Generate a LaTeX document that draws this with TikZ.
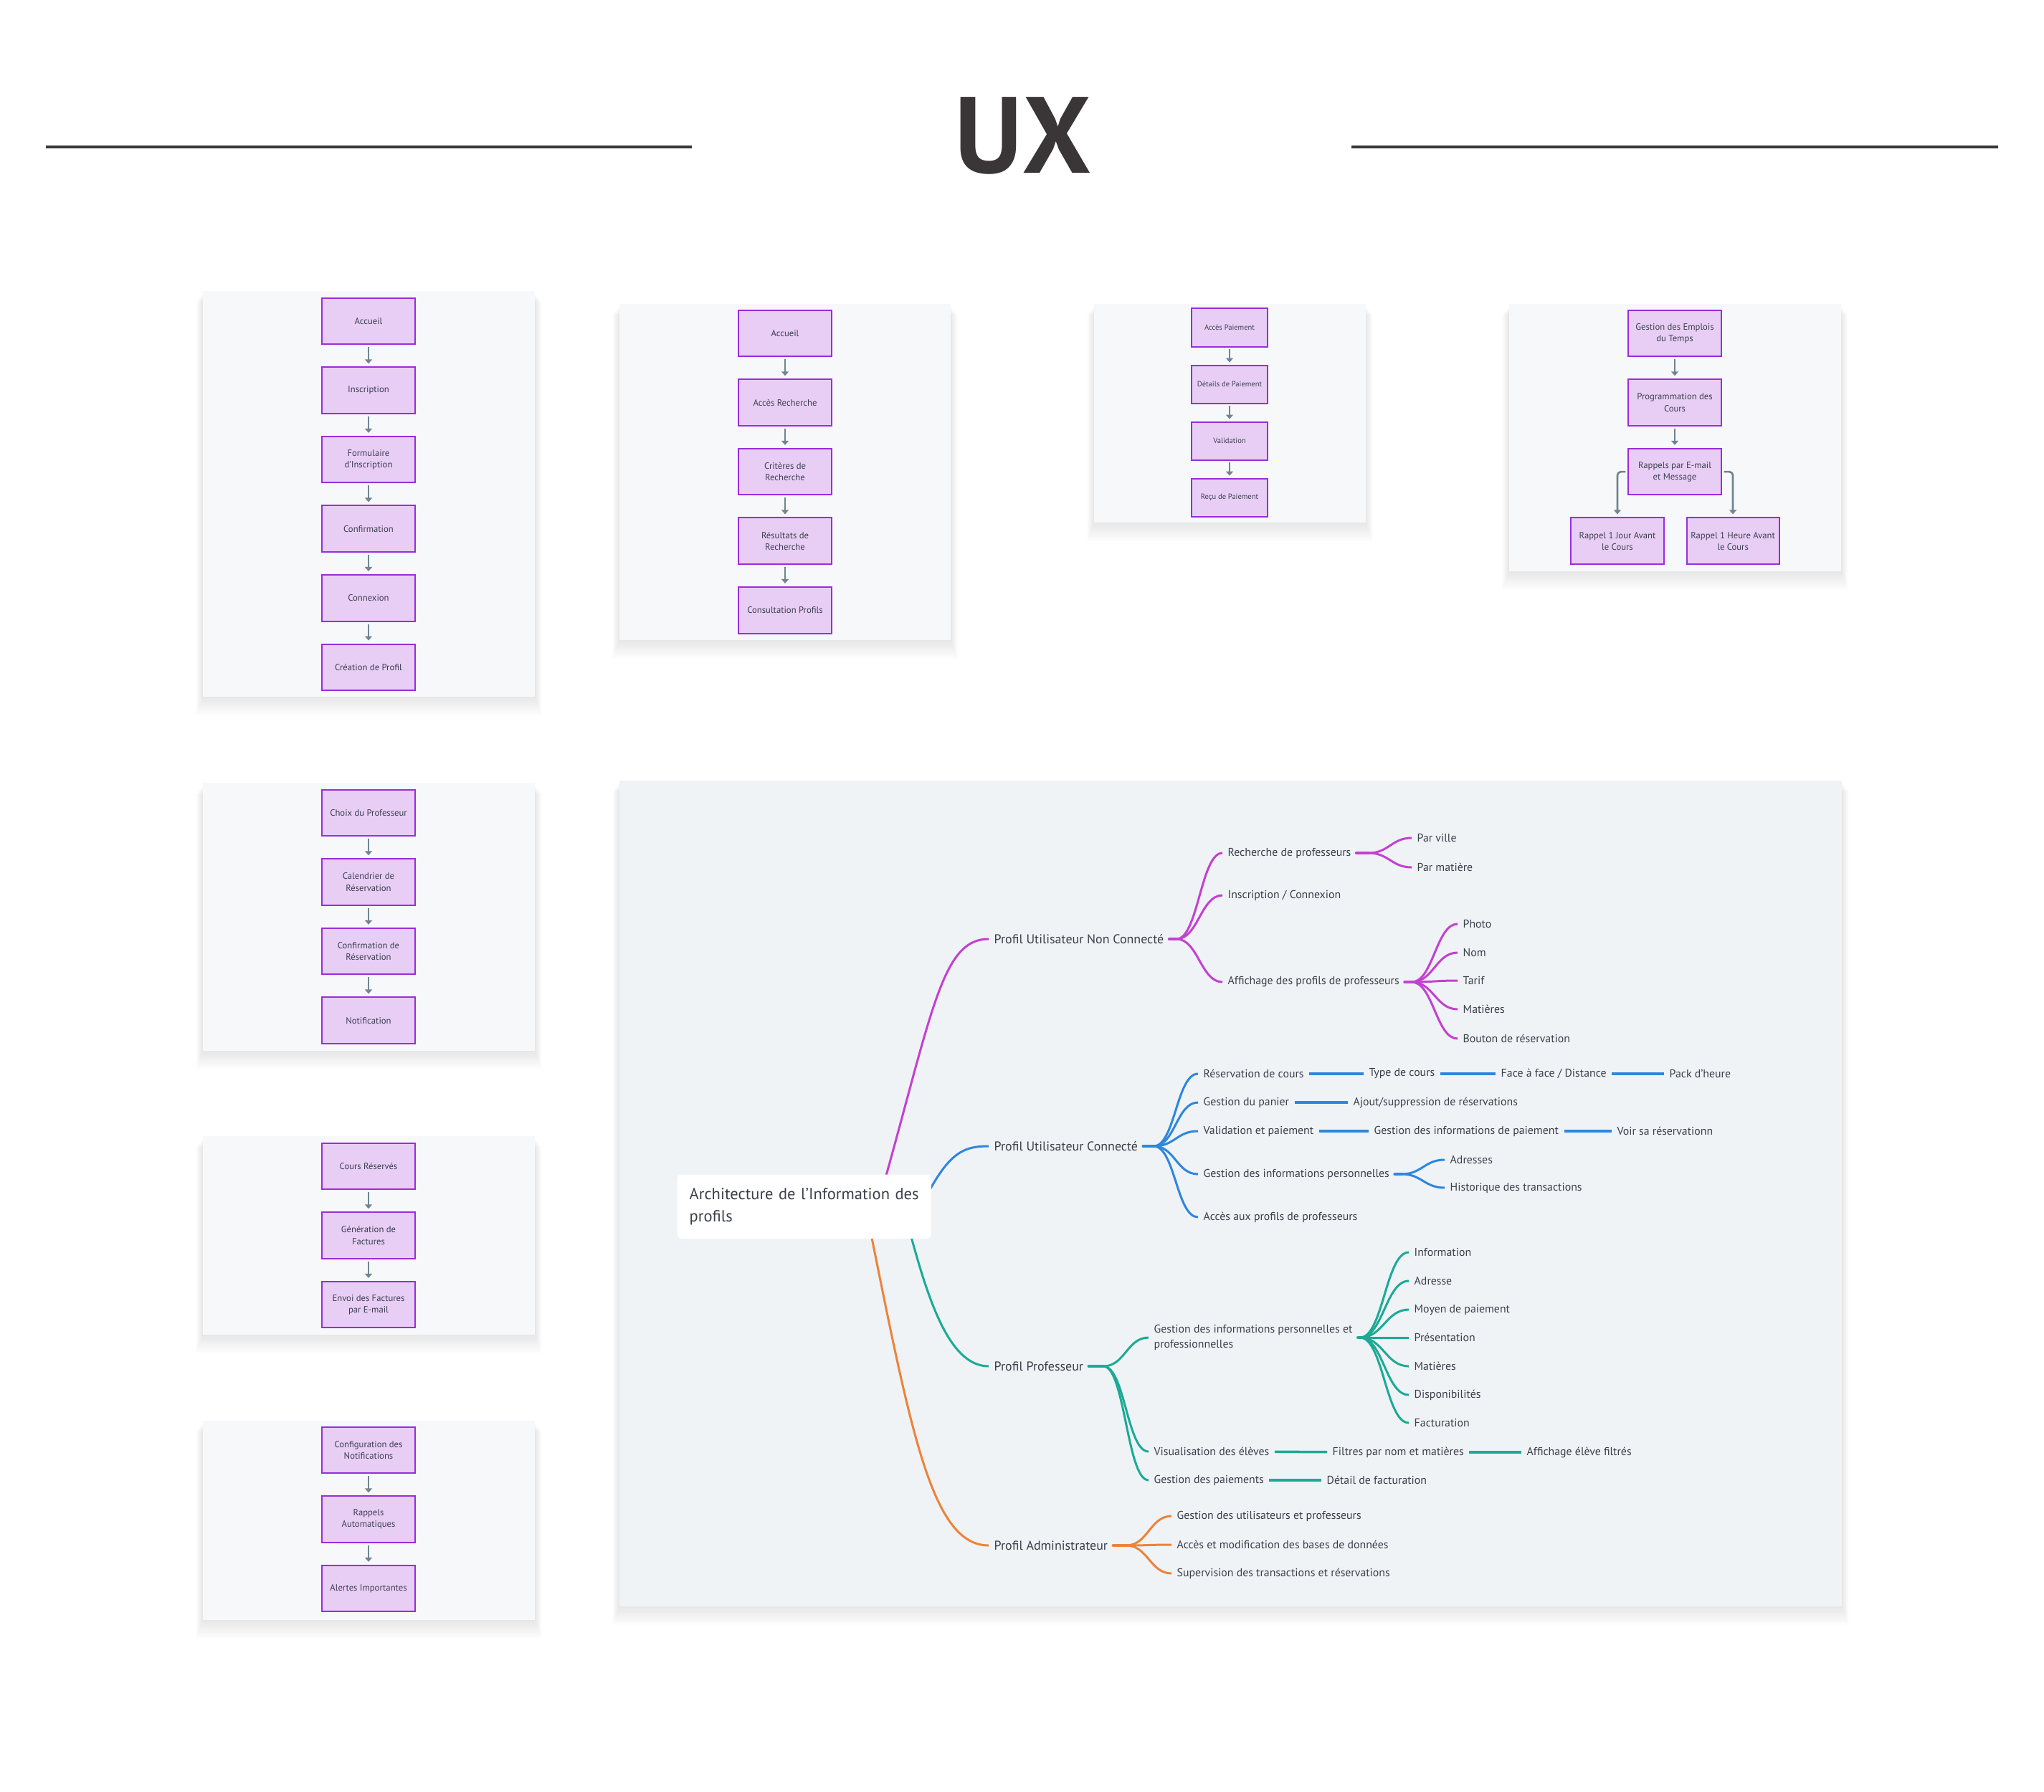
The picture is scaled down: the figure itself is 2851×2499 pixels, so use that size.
\documentclass[tikz,border=0pt]{standalone}
\usepackage{fontspec}
\setmainfont{PT Sans}
\usepackage{xcolor}
\usetikzlibrary{shapes,arrows.meta,positioning,calc}
\pgfdeclarelayer{back}
\pgfdeclarelayer{links}
\pgfsetlayers{back,links,main}

\definecolor{paneltint}{RGB}{247,248,249}
\definecolor{mapbg}{RGB}{239,243,246}
\definecolor{boxfill}{RGB}{232,206,245}
\definecolor{boxline}{RGB}{153,45,222}
\definecolor{boxtext}{RGB}{60,63,80}
\definecolor{arrowgrey}{RGB}{112,132,146}
\definecolor{titlegrey}{RGB}{58,53,54}
\definecolor{mapink}{RGB}{58,63,74}
\definecolor{mpurple}{RGB}{196,64,209}
\definecolor{mblue}{RGB}{46,134,222}
\definecolor{mteal}{RGB}{28,170,150}
\definecolor{morange}{RGB}{236,131,58}

\begin{document}
\begin{tikzpicture}[
    x=0.01cm, y=-0.01cm,
    node distance=0.30cm,
    screenbox/.style={rectangle, draw=boxline, fill=boxfill, line width=0.02cm, minimum width=1.29cm, minimum height=0.645cm, inner sep=0pt, align=center, text=boxtext, font=\fontsize{3.6}{4.6}\selectfont},
    smallbox/.style={screenbox, minimum width=1.06cm, minimum height=0.53cm, font=\fontsize{3.0}{3.8}\selectfont},
    flowarrow/.style={-{Triangle[length=0.06cm, width=0.1cm]}, draw=arrowgrey, line width=0.027cm, shorten <=0.03cm, shorten >=0.04cm},
    rootnode/.style={fill=white, rounded corners=0.05cm, anchor=north west, minimum width=3.54cm, minimum height=0.89cm, text width=3.2cm, inner xsep=0.17cm, align=left, text=mapink, font=\fontsize{6.4}{8.6}\selectfont},
    topicnode/.style={anchor=west, inner xsep=0.07cm, inner ysep=0pt, text=mapink, font=\fontsize{5.1}{6}\selectfont},
    leafnode/.style={topicnode, font=\fontsize{4.5}{6}\selectfont},
    curvelink/.style={line width=0.03cm},
    stublink/.style={line width=0.045cm, line cap=round},
    chainlink/.style={line width=0.035cm}
]
    \useasboundingbox (0,0) rectangle (2851,2499);

    \begin{pgfonlayer}{back}
        \fill[white] (0,0) rectangle (2851,2499);
        \foreach \xa/\ya/\xb/\yb in {283/406/746/972, 864/424/1326/893, 1526/424/1905/729, 2105/424/2568/797, 283/1092/746/1466, 283/1585/746/1862, 283/1982/746/2260, 864/1089/2569/2241}{
            \foreach \s in {1,...,12}
                \fill[black, opacity=0.008] (\xa-0.8*\s, \ya+3+\s) rectangle (\xb+0.8*\s, \yb+2.2*\s);
            \fill[paneltint] (\xa,\ya) rectangle (\xb,\yb);
        }
        \fill[mapbg] (864,1089) rectangle (2569,2241);
    \end{pgfonlayer}

    \node[anchor=base, text=titlegrey, font=\fontsize{43}{43}\selectfont\bfseries] (title) at (1427,241) {UX};
    \draw[titlegrey, line width=0.035cm] (64,205) -- (965,205);
    \draw[titlegrey, line width=0.035cm] (1885,205) -- (2787,205);

    \node[screenbox] (acc) at (514,448) {Accueil};
    \node[screenbox, below=of acc] (insc) {Inscription};
    \node[screenbox, below=of insc] (form) {Formulaire\\d'Inscription};
    \node[screenbox, below=of form] (conf) {Confirmation};
    \node[screenbox, below=of conf] (cnx) {Connexion};
    \node[screenbox, below=of cnx] (crea) {Création de Profil};

    \draw[flowarrow] (acc) -- (insc);
    \draw[flowarrow] (insc) -- (form);
    \draw[flowarrow] (form) -- (conf);
    \draw[flowarrow] (conf) -- (cnx);
    \draw[flowarrow] (cnx) -- (crea);

    \node[screenbox] (accr) at (1095,465) {Accueil};
    \node[screenbox, below=of accr] (rech) {Accès Recherche};
    \node[screenbox, below=of rech] (crit) {Critères de\\Recherche};
    \node[screenbox, below=of crit] (resu) {Résultats de\\Recherche};
    \node[screenbox, below=of resu] (consult) {Consultation Profils};

    \draw[flowarrow] (accr) -- (rech);
    \draw[flowarrow] (rech) -- (crit);
    \draw[flowarrow] (crit) -- (resu);
    \draw[flowarrow] (resu) -- (consult);

    \node[smallbox] (accpay) at (1715,457) {Accès Paiement};
    \node[smallbox, below=0.24cm of accpay] (detpay) {Détails de Paiement};
    \node[smallbox, below=0.24cm of detpay] (valpay) {Validation};
    \node[smallbox, below=0.24cm of valpay] (recu) {Reçu de Paiement};

    \draw[flowarrow, shorten <=0.02cm, shorten >=0.03cm] (accpay) -- (detpay);
    \draw[flowarrow, shorten <=0.02cm, shorten >=0.03cm] (detpay) -- (valpay);
    \draw[flowarrow, shorten <=0.02cm, shorten >=0.03cm] (valpay) -- (recu);

    \node[screenbox] (edt) at (2336,465) {Gestion des Emplois\\du Temps};
    \node[screenbox, below=of edt] (prog) {Programmation des\\Cours};
    \node[screenbox, below=of prog] (rappel) {Rappels par E-mail\\et Message};
    \node[screenbox, below=of rappel, xshift=-0.8cm] (jour) {Rappel 1 Jour Avant\\le Cours};
    \node[screenbox, below=of rappel, xshift=0.81cm] (heure) {Rappel 1 Heure Avant\\le Cours};

    \draw[flowarrow] (edt) -- (prog);
    \draw[flowarrow] (prog) -- (rappel);
    \draw[flowarrow, rounded corners=0.05cm] (rappel.west) -| (jour.north);
    \draw[flowarrow, rounded corners=0.05cm] (rappel.east) -| (heure.north);

    \node[screenbox] (choix) at (514,1134) {Choix du Professeur};
    \node[screenbox, below=of choix] (cal) {Calendrier de\\Réservation};
    \node[screenbox, below=of cal] (confres) {Confirmation de\\Réservation};
    \node[screenbox, below=of confres] (notif) {Notification};

    \draw[flowarrow] (choix) -- (cal);
    \draw[flowarrow] (cal) -- (confres);
    \draw[flowarrow] (confres) -- (notif);

    \node[screenbox] (cours) at (514,1627) {Cours Réservés};
    \node[screenbox, below=of cours] (gen) {Génération de\\Factures};
    \node[screenbox, below=of gen] (envoi) {Envoi des Factures\\par E-mail};

    \draw[flowarrow] (cours) -- (gen);
    \draw[flowarrow] (gen) -- (envoi);

    \node[screenbox] (config) at (514,2023) {Configuration des\\Notifications};
    \node[screenbox, below=of config] (auto) {Rappels\\Automatiques};
    \node[screenbox, below=of auto] (alerte) {Alertes Importantes};

    \draw[flowarrow] (config) -- (auto);
    \draw[flowarrow] (auto) -- (alerte);

    \node[rootnode] (root) at (944,1638) {\mbox{Architecture de l'Information des}\\profils};

    \node[topicnode] (pnc) at (1379,1310) {Profil Utilisateur Non Connecté};
    \node[topicnode] (puc) at (1379,1599) {Profil Utilisateur Connecté};
    \node[topicnode] (pprof) at (1379,1906) {Profil Professeur};
    \node[topicnode] (padm) at (1379,2156) {Profil Administrateur};

    \node[leafnode] (rechp) at (1705,1190) {Recherche de professeurs};
    \node[leafnode] (inscx) at (1705,1249) {Inscription / Connexion};
    \node[leafnode] (affp) at (1705,1370) {Affichage des profils de professeurs};
    \node[leafnode] (ville) at (1969,1169) {Par ville};
    \node[leafnode] (matiere) at (1969,1210) {Par matière};
    \node[leafnode] (photo) at (2033,1289) {Photo};
    \node[leafnode] (nom) at (2033,1329) {Nom};
    \node[leafnode] (tarif) at (2033,1368) {Tarif};
    \node[leafnode] (matp) at (2033,1408) {Matières};
    \node[leafnode] (bouton) at (2033,1449) {Bouton de réservation};

    \node[leafnode] (resa) at (1671,1498) {Réservation de cours};
    \node[leafnode] (panier) at (1671,1538) {Gestion du panier};
    \node[leafnode] (valid) at (1671,1578) {Validation et paiement};
    \node[leafnode] (gperso) at (1671,1638) {Gestion des informations personnelles};
    \node[leafnode] (accprof) at (1671,1698) {Accès aux profils de professeurs};
    \node[leafnode] (typec) at (1902,1498) {Type de cours};
    \node[leafnode] (face) at (2086,1498) {Face à face / Distance};
    \node[leafnode] (pack) at (2321,1498) {Pack d'heure};
    \node[leafnode] (ajout) at (1880,1538) {Ajout/suppression de réservations};
    \node[leafnode] (gpay) at (1909,1578) {Gestion des informations de paiement};
    \node[leafnode] (voir) at (2248,1578) {Voir sa réservationn};
    \node[leafnode] (adresses) at (2015,1618) {Adresses};
    \node[leafnode] (histo) at (2015,1657) {Historique des transactions};

    \node[leafnode, align=left] (ginfo) at (1602,1866) {Gestion des informations personnelles et\\professionnelles};
    \node[leafnode] (visu) at (1602,2025) {Visualisation des élèves};
    \node[leafnode] (gpai) at (1602,2065) {Gestion des paiements};
    \node[leafnode] (filtres) at (1851,2026) {Filtres par nom et matières};
    \node[leafnode] (affel) at (2122,2026) {Affichage élève filtrés};
    \node[leafnode] (detail) at (1843,2065) {Détail de facturation};
    \node[leafnode] (info) at (1965,1747) {Information};
    \node[leafnode] (adr) at (1965,1787) {Adresse};
    \node[leafnode] (moyen) at (1965,1827) {Moyen de paiement};
    \node[leafnode] (pres) at (1965,1866) {Présentation};
    \node[leafnode] (matt) at (1965,1906) {Matières};
    \node[leafnode] (dispo) at (1965,1946) {Disponibilités};
    \node[leafnode] (fact) at (1965,1985) {Facturation};

    \node[leafnode] (gusers) at (1634,2115) {Gestion des utilisateurs et professeurs};
    \node[leafnode] (bdd) at (1634,2155) {Accès et modification des bases de données};
    \node[leafnode] (superv) at (1634,2195) {Supervision des transactions et réservations};

    \coordinate (fkpnc) at (1641,1310);
    \coordinate (fkrech) at (1909,1190);
    \coordinate (fkaff) at (1969,1370);
    \coordinate (fkpuc) at (1609,1599);
    \coordinate (fkperso) at (1955,1638);
    \coordinate (fkprof) at (1539,1906);
    \coordinate (fkinfo) at (1897,1866);
    \coordinate (fkadm) at (1571,2156);

    \begin{pgfonlayer}{links}
        \draw[curvelink, mpurple] ($(root.center)+(94,28)$) .. controls (1300,1420) and (1310,1310) .. (pnc.west);
        \draw[curvelink, mblue] ($(root.center)+(159,8)$) .. controls (1320,1610) and (1340,1599) .. (puc.west);
        \draw[curvelink, mteal] ($(root.center)+(138,0)$) .. controls (1290,1800) and (1320,1906) .. (pprof.west);
        \draw[curvelink, morange] ($(root.center)+(89,18)$) .. controls (1271,2000) and (1300,2156) .. (padm.west);

        \draw[stublink, mpurple] (pnc.east) -- (fkpnc);
        \foreach \c in {rechp,inscx,affp}
            \draw[curvelink, mpurple] (fkpnc) .. controls +(30,0) and +(-30,0) .. (\c.west);
        \draw[stublink, mpurple] (rechp.east) -- (fkrech);
        \foreach \c in {ville,matiere}
            \draw[curvelink, mpurple] (fkrech) .. controls +(28,0) and +(-28,0) .. (\c.west);
        \draw[stublink, mpurple] (affp.east) -- (fkaff);
        \foreach \c in {photo,nom,tarif,matp,bouton}
            \draw[curvelink, mpurple] (fkaff) .. controls +(30,0) and +(-30,0) .. (\c.west);

        \draw[stublink, mblue] (puc.east) -- (fkpuc);
        \foreach \c in {resa,panier,valid,gperso,accprof}
            \draw[curvelink, mblue] (fkpuc) .. controls +(30,0) and +(-30,0) .. (\c.west);
        \draw[stublink, mblue] (gperso.east) -- (fkperso);
        \foreach \c in {adresses,histo}
            \draw[curvelink, mblue] (fkperso) .. controls +(28,0) and +(-28,0) .. (\c.west);
        \draw[chainlink, mblue] (resa) -- (typec);
        \draw[chainlink, mblue] (typec) -- (face);
        \draw[chainlink, mblue] (face) -- (pack);
        \draw[chainlink, mblue] (panier) -- (ajout);
        \draw[chainlink, mblue] (valid) -- (gpay);
        \draw[chainlink, mblue] (gpay) -- (voir);

        \draw[stublink, mteal] (pprof.east) -- (fkprof);
        \foreach \c in {ginfo,visu,gpai}
            \draw[curvelink, mteal] (fkprof) .. controls +(30,0) and +(-30,0) .. (\c.west);
        \draw[stublink, mteal] (ginfo.east) -- (fkinfo);
        \foreach \c in {info,adr,moyen,pres,matt,dispo,fact}
            \draw[curvelink, mteal] (fkinfo) .. controls +(32,0) and +(-32,0) .. (\c.west);
        \draw[chainlink, mteal] (visu) -- (filtres);
        \draw[chainlink, mteal] (filtres) -- (affel);
        \draw[chainlink, mteal] (gpai) -- (detail);

        \draw[stublink, morange] (padm.east) -- (fkadm);
        \foreach \c in {gusers,bdd,superv}
            \draw[curvelink, morange] (fkadm) .. controls +(30,0) and +(-30,0) .. (\c.west);
    \end{pgfonlayer}
\end{tikzpicture}
\end{document}
